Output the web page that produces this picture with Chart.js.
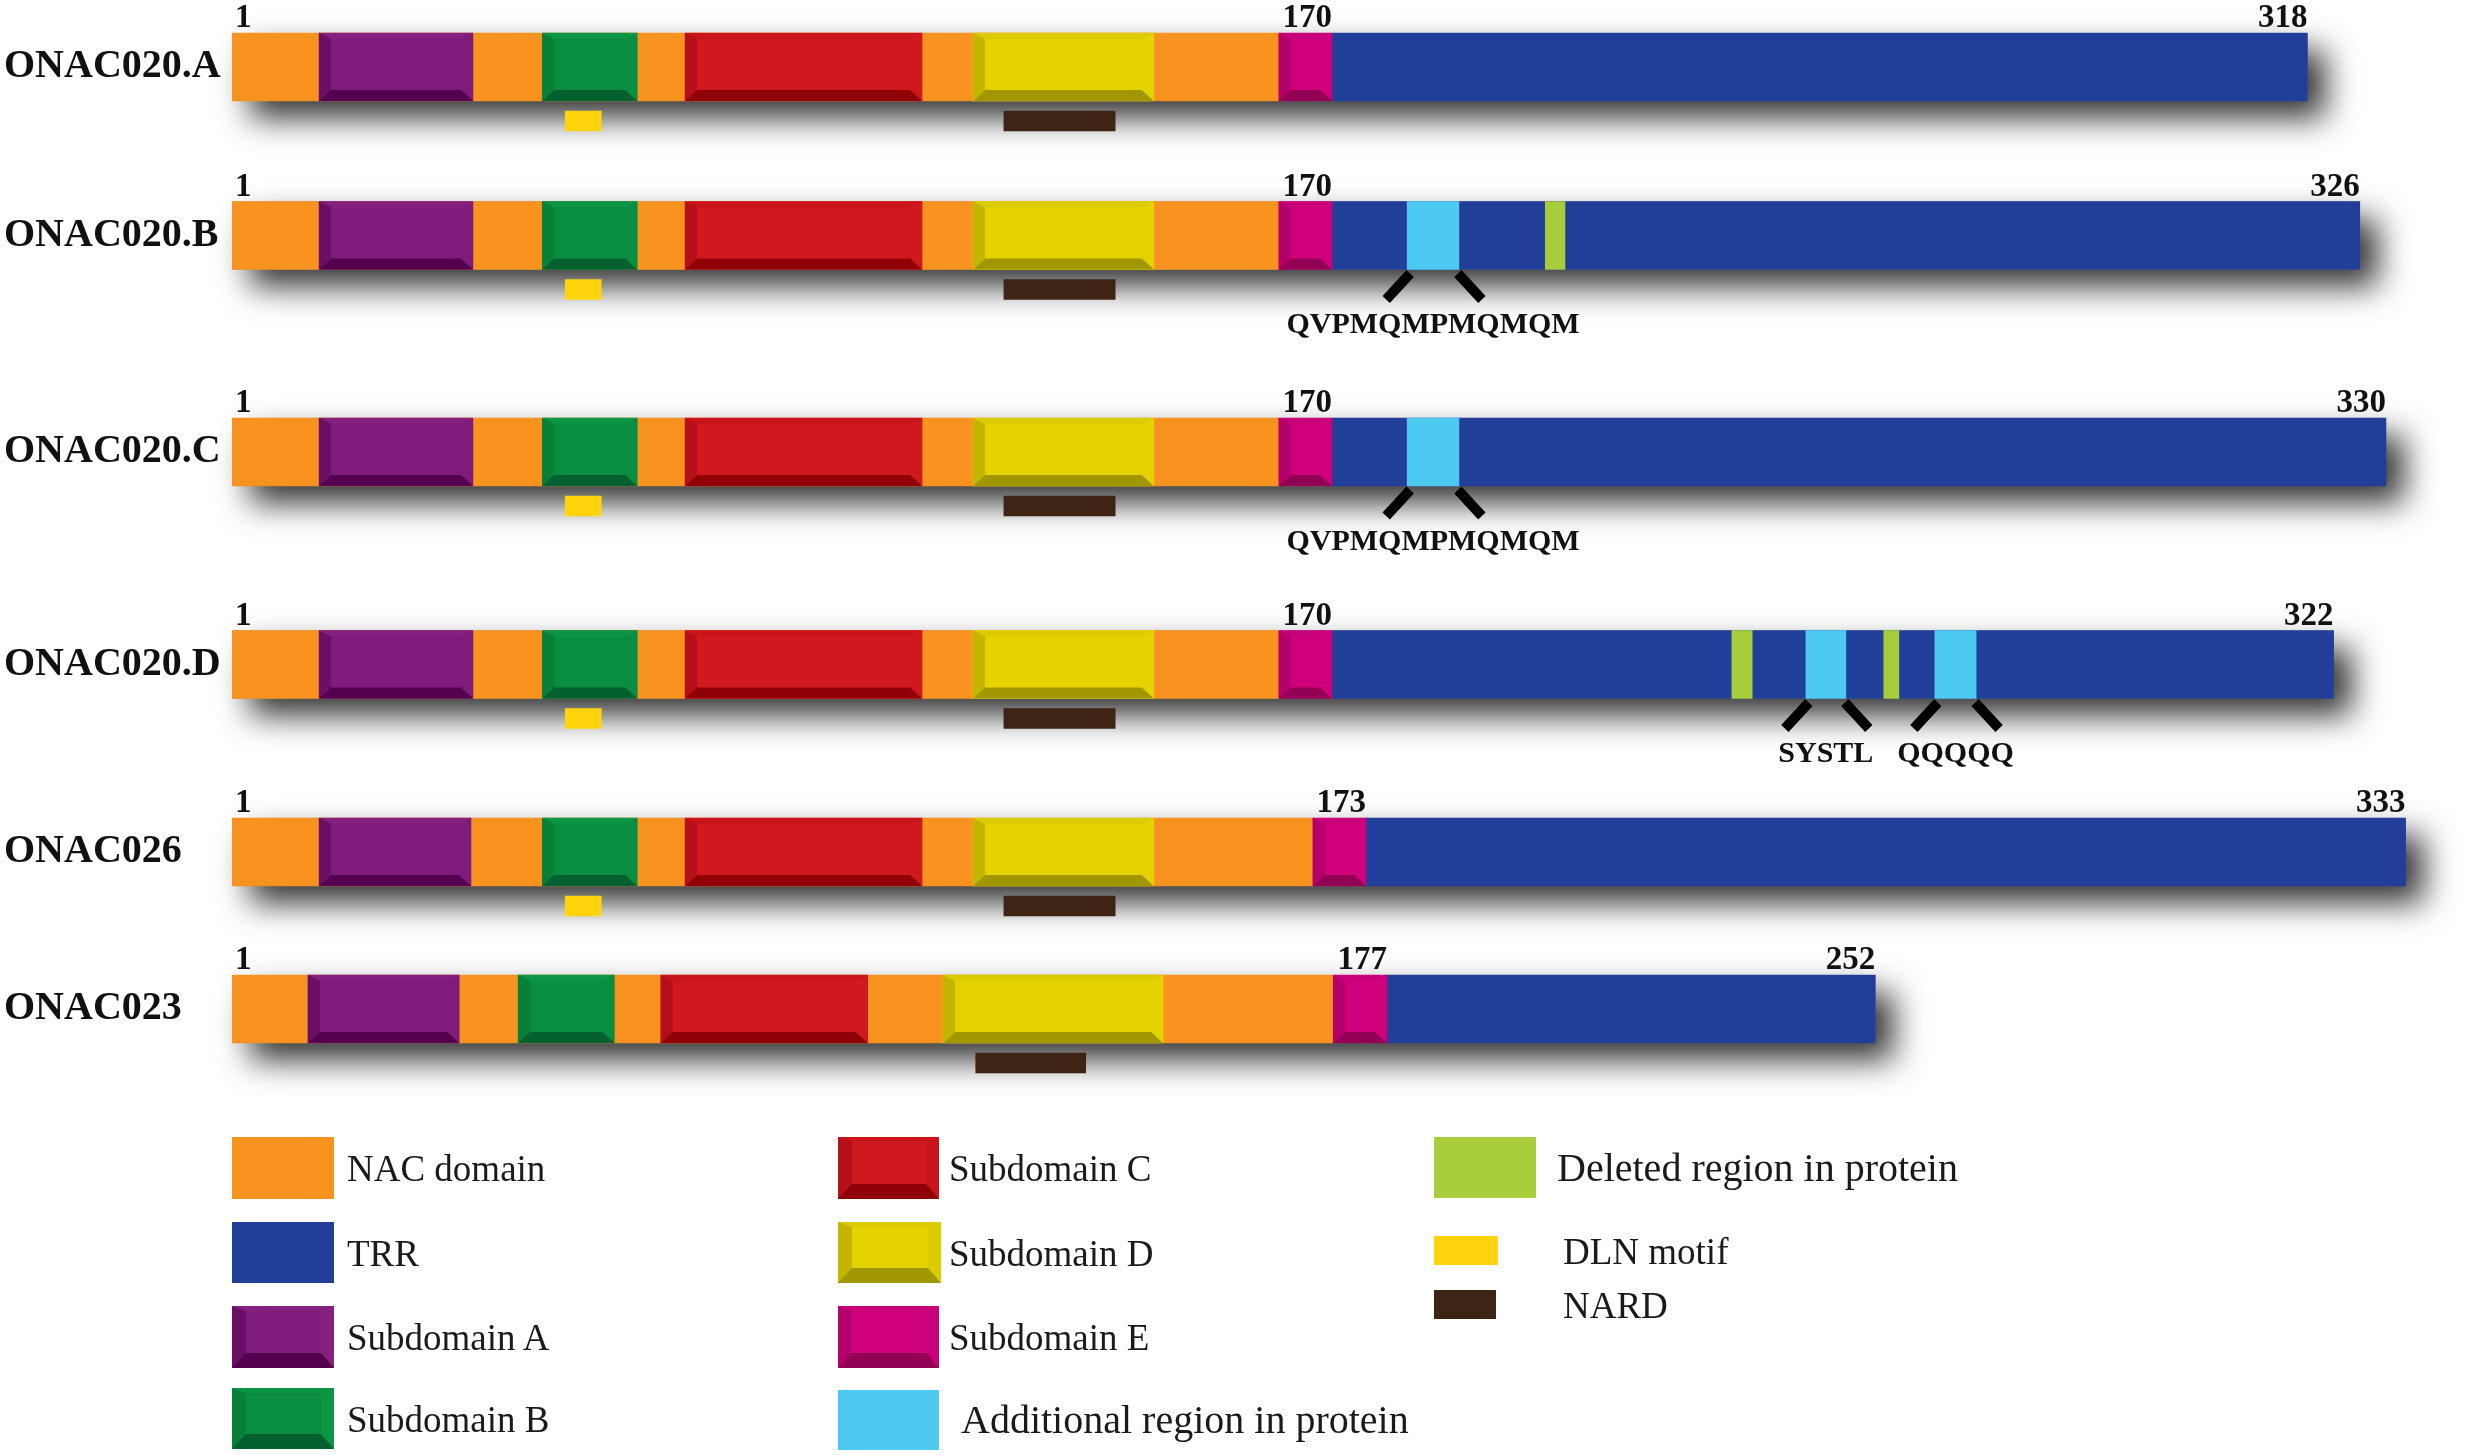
<!DOCTYPE html>
<html>
<head>
<meta charset="utf-8">
<title>ONAC020 / ONAC026 / ONAC023 domain structure</title>
<script src="https://cdn.jsdelivr.net/npm/chart.js@4.4.1/dist/chart.umd.min.js"></script>
<style>
  html, body { margin: 0; padding: 0; background: #fff; }
  #wrap { position: relative; width: 2467px; height: 1455px; overflow: hidden; }
  #wrap canvas { position: absolute; left: 0; top: 0; }
  .key { position: absolute; box-sizing: border-box; }
  .keytext { position: absolute; font-family: "Liberation Serif", "Times New Roman", serif; color: #1a1a1a;
             line-height: 1; white-space: nowrap; transform: translateY(-50%); }
</style>
</head>
<body>
<div id="wrap">
  <canvas id="domains" width="2467" height="1455"></canvas>
  <div id="legend"></div>
</div>
<script>
// proteins and their lengths (residues)
var proteins = ['ONAC020.A', 'ONAC020.B', 'ONAC020.C', 'ONAC020.D', 'ONAC026', 'ONAC023'];
var lengths  = [318, 326, 330, 322, 333, 252];
var nacLabel = [170, 170, 170, 170, 173, 177];

// segments, [start, end] in residue positions
var subA = [[14.3, 37.8], [14.3, 37.8], [14.3, 37.8], [14.3, 37.8], [14.3, 37.5], [12.6, 35.7]];
var subB = [[48.4, 62.9], [48.4, 62.9], [48.4, 62.9], [48.4, 62.9], [48.4, 62.9], [44.7, 59.4]];
var subC = [[70.2, 106.4], [70.2, 106.4], [70.2, 106.4], [70.2, 106.4], [70.2, 106.4], [66.5, 98.1]];
var subD = [[114.2, 141.8], [114.2, 141.8], [114.2, 141.8], [114.2, 141.8], [114.2, 141.8], [109.6, 143.2]];
var subE = [[160.9, 169.0], [160.9, 169.0], [160.9, 169.0], [160.9, 169.0], [166.1, 174.2], [169.2, 177.4]];
var additional = [[], [[180.5, 188.4]], [[180.5, 188.4]], [[241.4, 247.5], [261.1, 267.4]], [], []];
var additionalSeq = [[], ['QVPMQMPMQMQM'], ['QVPMQMPMQMQM'], ['SYSTL', 'QQQQQ'], [], []];
var deleted = [[], [[201.6, 204.6]], [], [[230.1, 233.2], [253.3, 255.6]], [], []];
var dln  = [[51.9, 57.4], [51.9, 57.4], [51.9, 57.4], [51.9, 57.4], [51.9, 57.4], null];
var nard = [[118.9, 135.9], [118.9, 135.9], [118.9, 135.9], [118.9, 135.9], [118.9, 135.9], [114.6, 131.4]];

// layout only: vertical centre of each track, bar sizes
var rowY = [67, 235.5, 452, 664.5, 852, 1009];
var barSize = 68;
var motifSize = 20;
var motifDrop = 54;

var colours = {
  'NAC domain': '#F7931E',
  'TRR': '#213F99',
  'Subdomain A': '#7E1B7C',
  'Subdomain B': '#098E41',
  'Subdomain C': '#D0181F',
  'Subdomain D': '#E4D300',
  'Subdomain E': '#D0007C',
  'Additional region in protein': '#4EC9F1',
  'Deleted region in protein': '#A7CD3A',
  'DLN motif': '#FFD40F',
  'NARD': '#3E2415'
};
var bevels = {
  'Subdomain A': {top: '#84217F', left: '#6A0E66', bottom: '#55004E'},
  'Subdomain B': {top: '#0C9545', left: '#07803A', bottom: '#04602E'},
  'Subdomain C': {top: '#C9141B', left: '#B5101A', bottom: '#8F0007'},
  'Subdomain D': {top: '#DCCB00', left: '#C4B500', bottom: '#A19700'},
  'Subdomain E': {top: '#C8007A', left: '#B3006B', bottom: '#910052'}
};

function single(list, dy) {
  var out = [];
  list.forEach(function(seg, i) {
    if (seg) out.push({x: seg, y: rowY[i] + dy});
  });
  return out;
}
function many(list, dy) {
  var out = [];
  list.forEach(function(segs, i) {
    segs.forEach(function(seg) { out.push({x: seg, y: rowY[i] + dy}); });
  });
  return out;
}
function bars(label, data, size, order) {
  return {
    label: label,
    data: data,
    backgroundColor: colours[label],
    borderWidth: 0,
    barThickness: size,
    grouped: false,
    order: order
  };
}

var nacBars = proteins.map(function(p, i) { return [1, subE[i][0]]; });
var trrBars = proteins.map(function(p, i) { return [subE[i][1], lengths[i]]; });

var datasets = [
  bars('NAC domain', single(nacBars, 0), barSize, 10),
  bars('TRR', single(trrBars, 0), barSize, 9),
  bars('Subdomain A', single(subA, 0), barSize, 5),
  bars('Subdomain B', single(subB, 0), barSize, 5),
  bars('Subdomain C', single(subC, 0), barSize, 5),
  bars('Subdomain D', single(subD, 0), barSize, 5),
  bars('Subdomain E', single(subE, 0), barSize, 5),
  bars('Additional region in protein', many(additional, 0), barSize, 3),
  bars('Deleted region in protein', many(deleted, 0), barSize, 3),
  bars('DLN motif', single(dln, motifDrop), motifSize, 1),
  bars('NARD', single(nard, motifDrop), motifSize, 1)
];

function poly(ctx, colour, pts) {
  ctx.beginPath();
  ctx.moveTo(pts[0][0], pts[0][1]);
  for (var k = 1; k < pts.length; k++) ctx.lineTo(pts[k][0], pts[k][1]);
  ctx.closePath();
  ctx.fillStyle = colour;
  ctx.fill();
}

// soft drop shadow under each protein track
var trackShadow = {
  id: 'trackShadow',
  beforeDatasetsDraw: function(chart) {
    var ctx = chart.ctx, xs = chart.scales.x, ys = chart.scales.y;
    ctx.save();
    ctx.shadowColor = 'rgba(0,0,0,0.8)';
    ctx.shadowBlur = 32;
    ctx.shadowOffsetX = 18;
    ctx.shadowOffsetY = 17;
    ctx.fillStyle = '#888';
    proteins.forEach(function(p, i) {
      var l = xs.getPixelForValue(1), r = xs.getPixelForValue(lengths[i]);
      var t = ys.getPixelForValue(rowY[i]) - barSize / 2;
      ctx.fillRect(l, t, r - l, barSize);
    });
    ctx.restore();
  }
};

// bevelled look of the subdomain boxes
var bevel = {
  id: 'bevel',
  afterDatasetDraw: function(chart, args) {
    var ds = chart.data.datasets[args.index];
    var bv = bevels[ds.label];
    if (!bv) return;
    var ctx = chart.ctx;
    ctx.save();
    args.meta.data.forEach(function(bar) {
      var p = bar.getProps(['x', 'y', 'base', 'height'], true);
      var L = Math.min(p.x, p.base), R = Math.max(p.x, p.base);
      var T = p.y - p.height / 2, B = p.y + p.height / 2;
      var s = 12, b = 11, t = 6, r = 12;
      poly(ctx, bv.top, [[L, T], [R, T], [R - r, T + t], [L + s, T + t]]);
      poly(ctx, bv.left, [[L, T], [L + s, T + t], [L + s, B - b], [L, B]]);
      poly(ctx, bv.bottom, [[L, B], [L + s, B - b], [R - r, B - b], [R, B]]);
    });
    ctx.restore();
  }
};

// residue numbers, inserted-sequence brackets and their sequences
var trackText = {
  id: 'trackText',
  afterDatasetsDraw: function(chart) {
    var ctx = chart.ctx, xs = chart.scales.x, ys = chart.scales.y;
    ctx.save();
    ctx.fillStyle = '#111';
    ctx.font = 'bold 33px "Liberation Serif"';
    ctx.textBaseline = 'alphabetic';
    proteins.forEach(function(p, i) {
      var top = ys.getPixelForValue(rowY[i]) - barSize / 2 - 6;
      ctx.textAlign = 'left';
      ctx.fillText('1', xs.getPixelForValue(1) + 3, top);
      ctx.textAlign = 'right';
      ctx.fillText(String(nacLabel[i]), xs.getPixelForValue(subE[i][1]), top);
      ctx.fillText(String(lengths[i]), xs.getPixelForValue(lengths[i]), top);
    });

    ctx.strokeStyle = '#000';
    ctx.lineWidth = 10;
    ctx.lineCap = 'butt';
    ctx.font = 'bold 30px "Liberation Serif"';
    ctx.textAlign = 'center';
    ctx.textBaseline = 'middle';
    additional.forEach(function(segs, i) {
      var bottom = ys.getPixelForValue(rowY[i]) + barSize / 2;
      segs.forEach(function(seg, k) {
        var a = xs.getPixelForValue(seg[0]), b = xs.getPixelForValue(seg[1]);
        ctx.beginPath();
        ctx.moveTo(a + 3, bottom + 4);
        ctx.lineTo(a - 21, bottom + 30);
        ctx.moveTo(b - 1, bottom + 4);
        ctx.lineTo(b + 23, bottom + 30);
        ctx.stroke();
        ctx.fillText(additionalSeq[i][k], (a + b) / 2, bottom + 56);
      });
    });
    ctx.restore();
  }
};

var chart = new Chart(document.getElementById('domains'), {
  type: 'bar',
  data: { datasets: datasets },
  options: {
    indexAxis: 'y',
    responsive: false,
    animation: false,
    events: [],
    layout: { padding: { left: 4, right: 0, top: 0, bottom: 0 } },
    plugins: {
      legend: { display: false },
      tooltip: { enabled: false }
    },
    scales: {
      x: {
        type: 'linear',
        min: 1,
        max: 342.38,
        offset: false,
        display: false
      },
      y: {
        type: 'linear',
        min: 0,
        max: 1455,
        reverse: true,
        offset: false,
        grid: { display: false },
        border: { display: false },
        afterBuildTicks: function(scale) {
          scale.ticks = rowY.map(function(v) { return { value: v }; });
        },
        afterFit: function(scale) {
          scale.width = 228;
          scale.paddingTop = 0;
          scale.paddingBottom = 0;
        },
        ticks: {
          autoSkip: false,
          crossAlign: 'far',
          padding: 0,
          color: '#111',
          font: { family: 'Liberation Serif', size: 40, weight: 'bold' },
          callback: function(value, index) { return proteins[index]; }
        }
      }
    }
  },
  plugins: [trackShadow, bevel, trackText]
});

// legend, three columns as in the figure
var legendLayout = [
  {label: 'NAC domain', x: 232, y: 1137, w: 102, h: 62, tx: 347, size: 37},
  {label: 'TRR', x: 232, y: 1222, w: 102, h: 61, tx: 347, size: 37},
  {label: 'Subdomain A', x: 232, y: 1306, w: 102, h: 62, tx: 347, size: 37},
  {label: 'Subdomain B', x: 232, y: 1388, w: 102, h: 61, tx: 347, size: 37},
  {label: 'Subdomain C', x: 838, y: 1137, w: 101, h: 62, tx: 949, size: 37},
  {label: 'Subdomain D', x: 838, y: 1222, w: 103, h: 61, tx: 949, size: 37},
  {label: 'Subdomain E', x: 838, y: 1306, w: 101, h: 62, tx: 949, size: 37},
  {label: 'Additional region in protein', x: 838, y: 1390, w: 101, h: 60, tx: 961, size: 40},
  {label: 'Deleted region in protein', x: 1434, y: 1137, w: 102, h: 61, tx: 1557, size: 40},
  {label: 'DLN motif', x: 1434, y: 1236, w: 64, h: 29, tx: 1563, size: 37},
  {label: 'NARD', x: 1434, y: 1290, w: 62, h: 29, tx: 1563, size: 37}
];

var legendBox = document.getElementById('legend');
legendLayout.forEach(function(item) {
  var ds = chart.data.datasets.filter(function(d) { return d.label === item.label; })[0];
  var sw = document.createElement('div');
  sw.className = 'key';
  sw.style.left = item.x + 'px';
  sw.style.top = item.y + 'px';
  sw.style.width = item.w + 'px';
  sw.style.height = item.h + 'px';
  sw.style.background = ds.backgroundColor;
  var bv = bevels[item.label];
  if (bv) {
    sw.style.borderStyle = 'solid';
    sw.style.borderWidth = '5px 13px 15px 14px';
    sw.style.borderColor = bv.top + ' ' + bv.top + ' ' + bv.bottom + ' ' + bv.left;
  }
  legendBox.appendChild(sw);

  var tx = document.createElement('div');
  tx.className = 'keytext';
  tx.textContent = item.label;
  tx.style.left = item.tx + 'px';
  tx.style.top = (item.y + item.h / 2) + 'px';
  tx.style.fontSize = item.size + 'px';
  legendBox.appendChild(tx);
});
</script>
</body>
</html>
